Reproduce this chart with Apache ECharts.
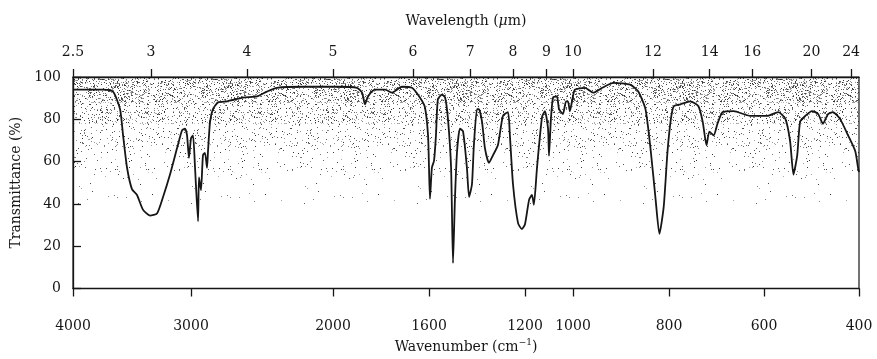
<!DOCTYPE html>
<html>
<head>
<meta charset="utf-8">
<script src="https://cdn.jsdelivr.net/npm/echarts@6/dist/echarts.min.js"></script>
<style>
  html, body { margin: 0; padding: 0; background: #fff; }
  #chart { width: 877px; height: 359px; }
</style>
</head>
<body>
<div id="chart"></div>
<script>
// spectrum
const wavenumber = [
  4000, 3743, 3658, 3598, 3572, 3538, 3496, 3453, 3402, 3342,
  3283, 3233, 3175, 3116, 3075, 3050, 3033, 3017, 3000,
  2982, 2964, 2937, 2929, 2911, 2893, 2875, 2857, 2848, 2830, 2804, 2759, 2679, 2536,
  2442, 2384, 2326, 2175,
  1983, 1900, 1879, 1867, 1854, 1825, 1783, 1754, 1713, 1671, 1638, 1617, 1604, 1600,
  1596, 1588, 1579, 1571, 1563, 1546, 1533, 1521, 1508, 1500, 1492, 1483, 1471, 1458,
  1442, 1433, 1421, 1413, 1400, 1392, 1379, 1367, 1350, 1333, 1313, 1292, 1271, 1263,
  1250, 1229, 1213, 1200, 1183, 1171, 1163, 1150, 1129, 1117, 1104, 1100, 1092, 1083,
  1067, 1058, 1042, 1029, 1021, 1013, 1004,
  996, 975, 958, 939, 916, 880, 864, 849, 838, 828, 820, 811, 803, 796, 790, 776, 755,
  738, 729, 721, 715, 706, 698, 687, 664, 629, 593, 570, 555, 545, 538, 530, 524, 513,
  499, 486, 476, 465, 455, 440, 423, 408, 402, 400
];
const transmittance = [
  94, 94, 93.1, 84.8, 72.4, 57.1, 47, 44.2, 37.3, 34.5,
  35.5, 43.3, 53.9, 66.4, 74.7, 75.6, 72.4, 61.8, 71,
  72.4, 57.1, 31.8, 52.5, 46.5, 63.1, 64.1, 57.1, 65, 78.8, 84.8, 88, 88.5, 90.3,
  90.8, 93.1, 94.9, 95.4,
  95.4, 94.9, 92.6, 87.1, 90.8, 94, 94, 92.6, 95.4, 94.9, 90.3, 85.7, 72.4, 57.1,
  42.4, 57.1, 60.4, 72.4, 89.4, 91.7, 90.3, 80.2, 57.1, 12, 41.9, 65, 75.6, 74.2,
  57.1, 43.3, 49.3, 67.7, 84.8, 84.8, 78.8, 66.4, 59.4, 63.1, 67.7, 81.6, 83.4, 72.4,
  49.3, 30.9, 28.1, 30.4, 41.9, 44.2, 39.6, 57.1, 81.1, 83.9, 75.6, 62.7, 80.2, 90.3,
  90.8, 84.8, 82.5, 88.5, 88.5, 83.9, 88.5,
  94, 94.9, 92.6, 94.9, 97.2, 96.3, 93.1, 84.8, 65, 42.4, 25.8, 38.7, 65, 80.2, 86.2, 87.1, 88.5,
  86.2, 78.8, 67.7, 74.2, 72.4, 77.9, 83.4, 83.9, 81.6, 81.6, 83.4, 80.2, 69.6, 53.9, 63.1, 78.8, 81.6,
  83.9, 82.5, 77.9, 82.5, 83.4, 80.2, 72.4, 65, 57.1, 55
];

const wavenumberTicks = [4000, 3000, 2000, 1600, 1200, 1000, 800, 600, 400];
const wavelengthTicks = [2.5, 3, 4, 5, 6, 7, 8, 9, 10, 12, 14, 16, 20, 24];
const transmittanceTicks = [0, 20, 40, 60, 80, 100];

// the printed wavenumber scale changes pace along the axis (scan is not linear either)
const scaleWn  = [4000, 10000 / 3, 3000, 2500, 2000, 1600, 1200, 1000, 800, 600, 400];
const scalePos = [0, 78, 118, 174, 260, 356, 452, 500, 596, 691, 786];

function toPos(wn) {
  for (let i = 0; i < scaleWn.length - 1; i++) {
    if (wn <= scaleWn[i] && wn >= scaleWn[i + 1]) {
      const t = (scaleWn[i] - wn) / (scaleWn[i] - scaleWn[i + 1]);
      return scalePos[i] + t * (scalePos[i + 1] - scalePos[i]);
    }
  }
  return wn > scaleWn[0] ? 0 : scalePos[scalePos.length - 1];
}
function toWn(pos) {
  for (let i = 0; i < scalePos.length - 1; i++) {
    if (pos >= scalePos[i] - 1e-6 && pos <= scalePos[i + 1] + 1e-6) {
      const t = (pos - scalePos[i]) / (scalePos[i + 1] - scalePos[i]);
      return scaleWn[i] - t * (scaleWn[i] - scaleWn[i + 1]);
    }
  }
  return 400;
}

// halftone speckle of the printed chart paper, as tiled dot patterns
function speckle(density, seed) {
  const c = document.createElement('canvas');
  c.width = 113; c.height = 97;
  const g = c.getContext('2d');
  for (let y = 0; y < c.height; y++) {
    for (let x = 0; x < c.width; x++) {
      let s = Math.sin((x + 1) * 12.9898 + (y + 1) * 78.233 + seed * 37.719) * 43758.5453;
      s -= Math.floor(s);
      if (s < density) {
        const a = 0.35 + (s / density) * 0.55;
        g.fillStyle = 'rgba(20,20,20,' + a.toFixed(2) + ')';
        g.fillRect(x, y, 1, 1);
      }
    }
  }
  return { image: c, repeat: 'repeat' };
}

const ink = '#161616';
const font = 'DejaVu Serif';
const chart = echarts.init(document.getElementById('chart'));

chart.setOption({
  animation: false,
  textStyle: { fontFamily: font, color: ink },
  grid: { left: 73, right: 18, top: 77, bottom: 65, show: true, borderColor: ink, borderWidth: 1.2, backgroundColor: 'transparent' },
  xAxis: [{
    type: 'value', position: 'bottom', min: 0, max: scalePos[scalePos.length - 1],
    name: 'Wavenumber (cm{sup|−1})', nameLocation: 'middle', nameGap: 50,
    nameTextStyle: { fontSize: 14, color: ink, fontFamily: font, rich: { sup: { fontSize: 9, verticalAlign: 'top', padding: [0, 0, 8, 0], fontFamily: font, color: ink } } },
    axisLine: { lineStyle: { color: ink, width: 1.3 } },
    axisTick: { customValues: wavenumberTicks.map(toPos), length: 8, lineStyle: { color: ink, width: 1.3 } },
    axisLabel: {
      customValues: wavenumberTicks.map(toPos), margin: 31, fontSize: 14, color: ink, fontFamily: font,
      formatter: v => String(Math.round(toWn(v) / 100) * 100)
    },
    splitLine: { show: false }
  }, {
    type: 'value', position: 'top', min: 0, max: scalePos[scalePos.length - 1],
    name: 'Wavelength ({i|μ}m)', nameLocation: 'middle', nameGap: 49,
    nameTextStyle: { fontSize: 14, color: ink, fontFamily: font, rich: { i: { fontStyle: 'italic', fontSize: 14, fontFamily: font, color: ink } } },
    axisLine: { lineStyle: { color: ink, width: 1.3 } },
    axisTick: { customValues: wavelengthTicks.map(u => toPos(10000 / u)), length: 8, lineStyle: { color: ink, width: 1.3 } },
    axisLabel: {
      customValues: wavelengthTicks.map(u => toPos(10000 / u)), margin: 18, fontSize: 14, color: ink, fontFamily: font,
      formatter: v => String(Math.round(10000 / toWn(v) * 2) / 2)
    },
    splitLine: { show: false }
  }],
  yAxis: {
    type: 'value', min: 0, max: 100, interval: 20,
    name: 'Transmittance (%)', nameLocation: 'middle', nameGap: 50, nameRotate: 90,
    nameTextStyle: { fontSize: 14, color: ink, fontFamily: font },
    axisLine: { show: true, lineStyle: { color: ink, width: 1.3 } },
    axisTick: { show: true, inside: true, length: 8, lineStyle: { color: ink, width: 1.3 } },
    axisLabel: {
      margin: 12, fontSize: 14, color: ink, fontFamily: font,
      customValues: transmittanceTicks
    },
    splitLine: { show: false }
  },
  series: [{
    type: 'line',
    xAxisIndex: 0,
    data: wavenumber.map((w, i) => [toPos(w), transmittance[i]]),
    showSymbol: false,
    smooth: 0.2,
    z: 3,
    lineStyle: { color: ink, width: 1.8 },
    markArea: {
      silent: true,
      data: [
        [{ yAxis: 100, itemStyle: { color: speckle(0.2, 1) } }, { yAxis: 88 }],
        [{ yAxis: 88, itemStyle: { color: speckle(0.11, 2) } }, { yAxis: 78 }],
        [{ yAxis: 78, itemStyle: { color: speckle(0.05, 3) } }, { yAxis: 66 }],
        [{ yAxis: 66, itemStyle: { color: speckle(0.025, 4) } }, { yAxis: 55 }],
        [{ yAxis: 55, itemStyle: { color: speckle(0.006, 5) } }, { yAxis: 40 }]
      ]
    }
  }]
});
</script>
</body>
</html>
